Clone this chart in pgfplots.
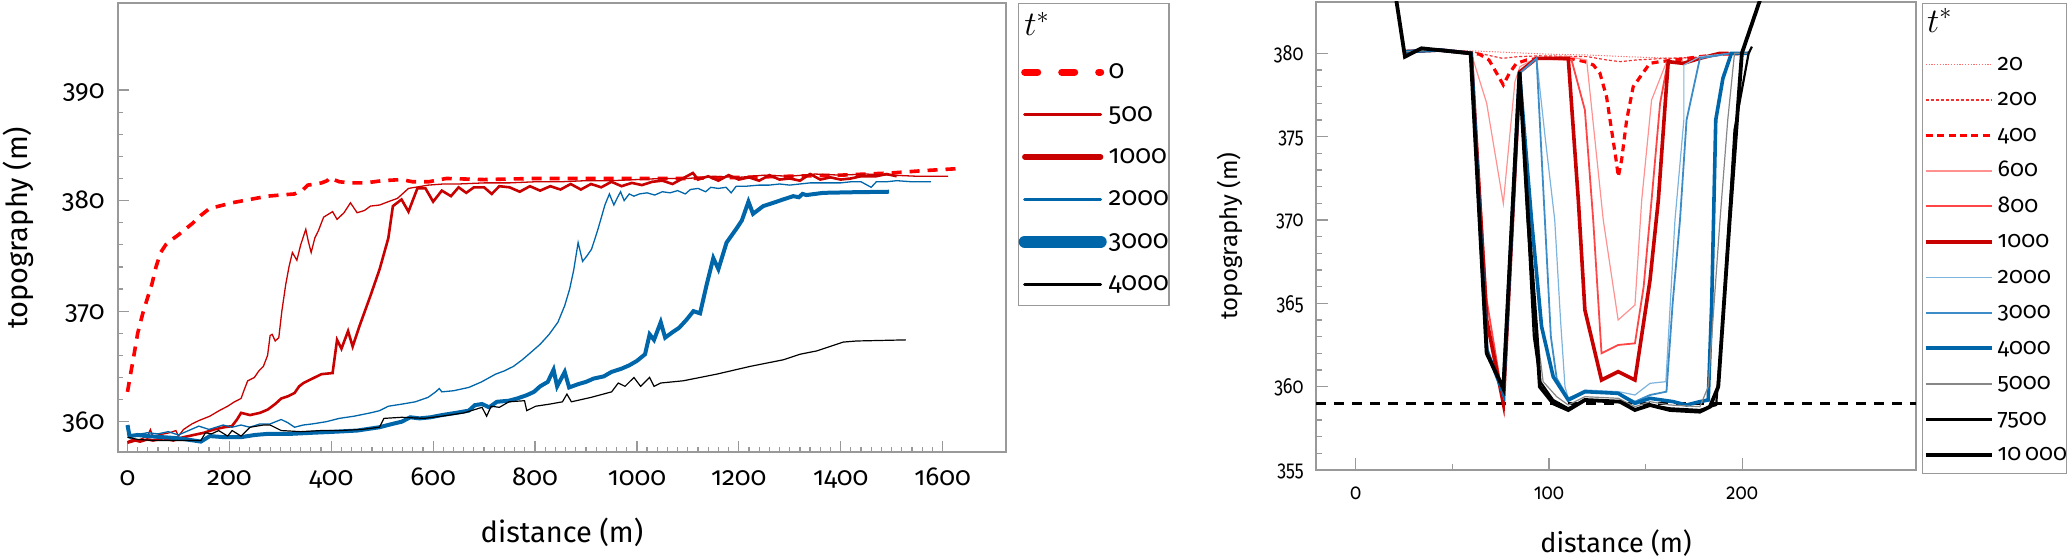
\documentclass[border=0pt]{standalone}
\usepackage{fontspec}
\setmainfont{Fira Sans}[Numbers=OldStyle]
\usepackage{graphicx}
\usepackage{pgfplots}
\pgfplotsset{compat=1.18}
\definecolor{dred}{RGB}{200,0,0}
\definecolor{bblue}{RGB}{0,102,170}
\definecolor{c20}{RGB}{255,110,110}
\definecolor{c200}{RGB}{240,50,50}
\definecolor{c600}{RGB}{255,145,145}
\definecolor{c800}{RGB}{255,70,70}
\definecolor{c2000}{RGB}{125,180,222}
\definecolor{c3000}{RGB}{60,140,200}
\definecolor{c5000}{RGB}{135,135,135}
\pgfplotsset{
  common/.style={
    scale only axis, anchor=south west,
    axis line style={black!40, line width=0.7pt},
    tick style={black!40, line width=0.6pt},
    tick align=inside, xtick pos=lower, ytick pos=left,
    /pgf/number format/assume math mode=true,
    /pgf/number format/1000 sep={},
    tick label style={inner sep=0pt},
    clip=true,
  }
}
\begin{document}
\begin{tikzpicture}
\path[use as bounding box] (0,0) rectangle (1033.5pt,278.5pt);
% ---------------- left panel ----------------
\begin{axis}[common,
  at={(59pt,52.5pt)}, width=444pt, height=224.5pt,
  xmin=-18.65, xmax=1724.6, ymin=357.26, ymax=397.87,
  xtick={0,200,...,1600}, minor x tick num=9,
  ytick={360,370,380,390}, minor y tick num=4,
  major tick length=5.3pt, minor tick length=2.5pt,
  tick label style={font=\fontsize{13}{15}\selectfont},
  xticklabel style={anchor=base, yshift=-16.5pt},
  yticklabel style={anchor=base east, xshift=-6.5pt, yshift=-4pt},
  xlabel={distance (m)}, ylabel={topography (m)},
  every axis x label/.style={at={(axis description cs:0.5,-0.178)}, anchor=center, font=\fontsize{14.5}{16}\selectfont},
  every axis y label/.style={at={(axis description cs:-0.1126,0.5)}, rotate=90, anchor=center, font=\fontsize{14.5}{16}\selectfont},
  legend cell align=left,
  legend image code/.code={\path[draw=none] (0pt,0pt) (44.5pt,0pt); \draw[line cap=round,#1] (2.5pt,0pt) -- (40.5pt,0pt);},
  legend style={at={(axis description cs:1.01351,1)}, anchor=north west, draw=black!40, line width=0.7pt,
    inner xsep=0pt, inner ysep=0pt, row sep=0pt, font=\fontsize{13}{15}\selectfont,
    nodes={inner sep=0pt, text height=13.9pt, text depth=7.3pt},
    /tikz/every odd column/.append style={column sep=0pt}},
]
\addlegendimage{legend image code/.code={\path[draw=none, fill=none] (0pt,-13pt) rectangle (44.5pt,10pt); \node[draw=none, anchor=west, inner sep=0pt, text height=11pt, text depth=0pt] at (2pt,0pt) {\fontsize{18}{18}\selectfont$t^*$};}}
\addlegendentry{}
\addlegendimage{red, line width=3.5pt, dash pattern=on 6.5pt off 12pt}
\addlegendentry{0}
\addlegendimage{dred, line width=1.5pt}
\addlegendentry{500}
\addlegendimage{dred, line width=2.6pt}
\addlegendentry{1000}
\addlegendimage{bblue, line width=1.5pt}
\addlegendentry{2000}
\addlegendimage{bblue, line width=6pt}
\addlegendentry{3000}
\addlegendimage{black, line width=1.5pt}
\addlegendentry{4000}
% t* = 0
\addplot[red, line width=1.8pt, dash pattern=on 5pt off 4pt, forget plot] coordinates {
(0,362.7) (6,364.3) (12.6,366.0) (20,368.0) (30,369.8) (40,371.3) (47.7,372.4) (56,374.0) (65,375.3) (75,376.0) (88,376.5) (100,376.9) (113,377.4) (126.6,377.9) (145,378.7) (161.6,379.3) (180,379.5) (205,379.8) (240,380.1) (275,380.4) (300,380.5) (328,380.6) (345,381.0) (354,381.4) (370,381.5) (381,381.6) (392,381.8) (398,382.1) (405,381.9) (416,381.7) (440,381.6) (468,381.6) (500,381.8) (538,381.9) (560,381.7) (591,381.7) (626,382.0) (700,381.9) (800,382.0) (900,382.0) (1000,382.0) (1100,382.0) (1200,382.1) (1300,382.2) (1400,382.3) (1500,382.5) (1560,382.7) (1634,382.9)};
% t* = 500
\addplot[dred, line width=0.65pt, forget plot] coordinates {
(0,358.2) (10,358.4) (20,358.3) (30,358.5) (38.9,358.7) (45,359.3) (50,358.6) (60,358.8) (82.7,359.0) (95,359.2) (100,358.7) (110,359.3) (126.5,359.8) (140,360.1) (161.6,360.5) (180,361.0) (196.6,361.4) (210,361.8) (222.9,362.1) (230,363.0) (236,363.7) (249,364.0) (258,364.6) (266.7,365.0) (275,366.0) (280,367.8) (284,367.9) (290,367.3) (297,367.6) (303,370.0) (310.6,372.4) (317,374.0) (323.7,375.3) (332.5,374.6) (340,376.0) (350,377.4) (355,376.3) (360.6,375.3) (367.6,376.6) (375,377.3) (385,378.5) (402.6,379.0) (411.4,378.3) (425,378.9) (437.7,379.8) (450.8,378.9) (465,379.1) (477,379.5) (495,379.6) (512,379.9) (530,380.2) (551.6,381.1) (591,381.4) (620,381.5) (650,381.5) (700,381.6) (750,381.6) (800,381.7) (850,381.7) (900,381.8) (950,381.8) (1000,381.9) (1050,382.0) (1100,382.0) (1150,382.2) (1200,382.1) (1250,382.3) (1300,382.2) (1350,382.4) (1400,382.3) (1450,382.4) (1500,382.3) (1550,382.2) (1611,382.2)};
% t* = 1000
\addplot[dred, line width=1.3pt, forget plot] coordinates {
(0,358.1) (15,358.3) (25,358.2) (38.9,358.4) (50,358.3) (70,358.5) (90,358.3) (110,358.6) (130,358.8) (150,359.0) (170,359.3) (190,359.5) (205,359.6) (215,360.2) (223,360.8) (240.5,360.6) (260,360.8) (275.5,361.1) (290,361.6) (301.8,362.1) (315,362.3) (328,362.6) (337,363.2) (345.6,363.5) (363,363.9) (380.7,364.3) (402.6,364.4) (411.4,367.4) (420,366.6) (433,368.2) (442,366.8) (455,368.6) (477,371.4) (495,373.8) (512,376.6) (521,379.5) (538,380.1) (551.6,379.0) (569,381.1) (585,381.1) (600,379.9) (617,380.9) (635,380.4) (650,381.2) (665,380.7) (680,381.2) (700,381.2) (715,380.6) (730,381.3) (750,381.2) (770,380.8) (790,381.3) (810,380.9) (830,381.3) (850,381.0) (870,381.5) (890,381.0) (910,381.5) (930,381.2) (950,381.7) (970,381.3) (990,381.6) (1010,381.4) (1030,381.7) (1050,381.8) (1070,381.5) (1090,382.0) (1110,382.5) (1120,381.9) (1140,382.2) (1160,381.8) (1180,382.3) (1200,381.9) (1220,382.1) (1240,381.8) (1260,382.3) (1280,381.9) (1300,382.0) (1320,381.8) (1340,382.4) (1360,381.9) (1380,382.1) (1400,381.9) (1420,382.0) (1440,382.2) (1470,382.2) (1490,382.4) (1510,382.2)};
% t* = 2000
\addplot[bblue, line width=0.65pt, forget plot] coordinates {
(0,358.9) (5,358.5) (15,358.8) (38.9,359.0) (60,358.9) (80,359.1) (100,358.8) (120,359.2) (140,359.6) (160,359.3) (187.8,359.7) (205,359.5) (222.9,359.7) (240,359.5) (260,359.8) (280,359.8) (301.8,360.2) (315,359.9) (328,359.5) (345,359.7) (363,359.8) (390,360.0) (415.8,360.3) (445,360.5) (477,360.8) (495,361.0) (512,361.4) (540,361.6) (565,361.8) (590,362.2) (605,362.7) (612,363.0) (617,362.7) (640,362.8) (670,363.1) (695,363.6) (722.5,364.3) (740,364.6) (757.5,365.0) (775,365.6) (792.6,366.3) (810,367.0) (827.7,367.9) (845,369.0) (858.3,370.5) (868,372.0) (875.9,373.7) (884.6,376.2) (893.4,374.5) (902,375.0) (910.9,375.6) (918,376.6) (924.1,377.5) (931,378.6) (937.2,379.6) (946,380.6) (954.8,379.6) (961,380.2) (967.9,380.8) (975,380.0) (985,380.6) (994.2,380.4) (1005,380.6) (1020,380.7) (1035,380.5) (1050,380.8) (1065,380.7) (1080,380.9) (1095,380.6) (1105,381.0) (1120,381.1) (1135,380.8) (1145,381.2) (1160,381.1) (1175,381.2) (1185,380.7) (1195,381.3) (1215,381.3) (1240,381.4) (1260,381.4) (1280,381.5) (1300,381.4) (1320,381.5) (1340,381.6) (1360,381.6) (1380,381.6) (1400,381.6) (1420,381.7) (1440,381.7) (1460,381.2) (1470,381.7) (1490,381.7) (1510,381.8) (1540,381.7) (1577,381.7)};
% t* = 3000
\addplot[bblue, line width=2pt, forget plot] coordinates {
(0,359.7) (4,358.7) (20,358.8) (38.9,358.7) (70,358.6) (100,358.5) (130,358.3) (144,358.2) (161.6,358.7) (190,358.6) (222.9,358.6) (250,358.8) (275.5,358.9) (320,358.9) (363,359.0) (410,359.1) (450.8,359.2) (494.7,359.5) (520,359.8) (538.4,360.0) (555,360.4) (573.5,360.3) (595,360.4) (617.3,360.6) (645,360.8) (669.9,361.0) (682,361.5) (696,361.6) (710,361.3) (725,361.8) (748.8,361.9) (765,362.1) (783.8,362.4) (798,362.7) (810,363.2) (825,363.6) (836.4,364.7) (843.4,363.2) (858.3,364.5) (867,363.1) (885,363.4) (900,363.6) (915,363.9) (935,364.1) (950,364.5) (970,364.8) (985,365.1) (1000,365.5) (1016,366.1) (1025,367.9) (1033.6,367.4) (1046.8,369.0) (1055.5,367.6) (1070,368.1) (1083,368.5) (1097,369.2) (1111,370.0) (1124,369.8) (1137,372.4) (1150,374.8) (1160,373.8) (1176,376.2) (1196,377.5) (1206,378.2) (1219,379.9) (1228,378.8) (1248,379.5) (1268,379.8) (1287,380.1) (1307,380.4) (1318,380.3) (1325,380.6) (1333,380.5) (1366,380.7) (1418,380.75) (1495,380.8)};
% t* = 4000
\addplot[black, line width=0.6pt, forget plot] coordinates {
(0,358.6) (20,358.4) (50,358.3) (80,358.3) (110,358.3) (144,358.3) (153,359.0) (165,358.9) (179,359.2) (196.6,358.7) (205.4,359.2) (222.9,358.7) (240.5,359.5) (266.7,359.7) (280,359.7) (301.8,359.2) (340,359.1) (380,359.2) (415.8,359.2) (460,359.3) (494.7,359.5) (503.4,360.3) (538.4,360.4) (582.3,360.3) (617.3,360.5) (661,360.8) (696,361.3) (705,360.5) (714,361.4) (730,361.3) (748.8,361.8) (779.4,361.9) (783.8,361.0) (801.3,361.4) (830,361.6) (853.9,361.8) (862.6,362.5) (871.4,361.8) (910,362.2) (950.4,362.7) (963.5,363.5) (976.7,363.2) (994.2,364.0) (1007.3,363.2) (1024.9,364.0) (1033.6,363.2) (1046.8,363.5) (1091,363.7) (1156.5,364.3) (1222,365.0) (1287.4,365.6) (1320,366.1) (1352.8,366.4) (1405,367.2) (1431,367.3) (1528,367.4)};
\end{axis}
% ---------------- right panel ----------------
\begin{axis}[common,
  at={(658pt,43.5pt)}, width=300pt, height=234pt,
  xmin=-20.5, xmax=289.9, ymin=355, ymax=383.08,
  xtick={0,100,200}, minor x tick num=1,
  ytick={355,360,...,380}, minor y tick num=4,
  major tick length=6pt, minor tick length=3pt,
  tick label style={font=\fontsize{11}{13}\selectfont},
  xticklabel={\scalebox{0.84}[1]{\pgfmathprintnumber{\tick}}},
  yticklabel={\scalebox{0.82}[1]{\pgfmathprintnumber{\tick}}},
  xticklabel style={anchor=base, yshift=-15pt},
  yticklabel style={anchor=base east, xshift=-6pt, yshift=-3.4pt},
  xlabel={distance (m)}, ylabel={topography (m)},
  every axis x label/.style={at={(axis description cs:0.5,-0.1553)}, anchor=center, font=\fontsize{13.5}{15}\selectfont},
  every axis y label/.style={at={(axis description cs:-0.143,0.5)}, rotate=90, anchor=center, font=\fontsize{12}{14}\selectfont},
  legend cell align=left,
  legend image code/.code={\path[draw=none] (0pt,0pt) (37.65pt,0pt); \draw[#1] (1.65pt,0pt) -- (34.65pt,0pt);},
  legend style={at={(axis description cs:1.0095,0.9979)}, anchor=north west, draw=black!40, line width=0.7pt,
    inner xsep=0pt, inner ysep=0.5pt, row sep=0pt, font=\fontsize{11.5}{13}\selectfont,
    nodes={inner sep=0pt, text height=11.8pt, text depth=5.95pt},
    /tikz/every odd column/.append style={column sep=0pt}},
]
\addlegendimage{legend image code/.code={\path[draw=none, fill=none] (0pt,-12.1pt) rectangle (37.65pt,8pt); \node[draw=none, anchor=west, inner sep=0pt, text height=10pt, text depth=0pt] at (2pt,0pt) {\fontsize{17}{17}\selectfont$t^*$};}}
\addlegendentry{}
\addlegendimage{c20, line width=0.5pt, dash pattern=on 0.6pt off 0.8pt}
\addlegendentry{20}
\addlegendimage{c200, line width=1pt, dash pattern=on 1.5pt off 1pt}
\addlegendentry{200}
\addlegendimage{red, line width=1.75pt, dash pattern=on 3.5pt off 2.2pt}
\addlegendentry{400}
\addlegendimage{c600, line width=0.75pt}
\addlegendentry{600}
\addlegendimage{c800, line width=1pt}
\addlegendentry{800}
\addlegendimage{dred, line width=2.2pt}
\addlegendentry{1000}
\addlegendimage{c2000, line width=0.75pt}
\addlegendentry{2000}
\addlegendimage{c3000, line width=1pt}
\addlegendentry{3000}
\addlegendimage{bblue, line width=2pt}
\addlegendentry{4000}
\addlegendimage{c5000, line width=0.75pt}
\addlegendentry{5000}
\addlegendimage{black, line width=1.25pt}
\addlegendentry{7500}
\addlegendimage{black, line width=2.2pt}
\addlegendentry{10\,000}
% reference level
\addplot[black, line width=1.2pt, dash pattern=on 5pt off 4pt, forget plot] coordinates {(-20.5,359) (289.9,359)};
% 20
\addplot[c20, line width=0.5pt, dash pattern=on 0.6pt off 0.8pt, forget plot] coordinates {
(25.6,380.1) (43.6,380.2) (60,380.15) (80,380.05) (100,379.95) (120,379.9) (140,379.8) (164,379.7) (178,379.75) (188.5,379.95) (203,380.05)};
% 200
\addplot[c200, line width=0.6pt, dash pattern=on 1.5pt off 1pt, forget plot] coordinates {
(25.6,380.1) (43.6,380.2) (60,380.1) (68,379.9) (76,379.7) (84,379.8) (95,379.85) (120,379.8) (130,379.6) (137,379.5) (145,379.6) (160,379.7) (175,379.75) (190,379.95) (203,380.05)};
% 400
\addplot[red, line width=1.6pt, dash pattern=on 3.5pt off 2.5pt, forget plot] coordinates {
(25.6,380.1) (43.6,380.2) (59.8,380.0) (64,379.95) (69,379.6) (73,378.8) (76.4,378.1) (79.5,378.8) (83.2,379.4) (88.5,379.6) (95,379.7) (110.9,379.7) (118.6,379.5) (123,379.3) (126.4,378.8) (129.8,377.4) (132.4,375.4) (134.5,373.8) (135.9,372.6) (137.6,373.6) (140.2,376.0) (143.6,378.0) (147.9,378.7) (152.2,379.4) (157.4,379.5) (165,379.6) (178,379.8) (190,379.95) (203,380.0)};
% 600
\addplot[c600, line width=0.6pt, forget plot] coordinates {
(25.6,380.1) (43.6,380.2) (59.8,380.0) (67.8,377.0) (76.4,371.0) (82.4,378.3) (85,379.2) (93,379.7) (110,379.8) (119.5,379.6) (128.1,370.0) (135.8,364.0) (144.5,364.9) (148,371.2) (153.1,377.2) (160.9,379.5) (169.5,379.4) (178,379.75) (188.5,380.0) (193,380.0)};
% 800
\addplot[c800, line width=0.9pt, forget plot] coordinates {
(25.6,380.1) (43.6,380.2) (59.8,380.0) (67.8,365.2) (76.4,359.1) (85,378.9) (93.6,379.7) (111.7,379.6) (118.6,376.6) (122.9,370.0) (127.2,362.0) (135.8,362.5) (144.5,362.6) (149,366.0) (153.1,371.2) (157.5,377.0) (161.5,379.5) (169.5,379.4) (178.1,379.7) (188.5,380.0) (193,380.0)};
% 1000
\addplot[dred, line width=1.8pt, forget plot] coordinates {
(25.6,380.1) (43.6,380.2) (59.8,380.0) (67.8,364.0) (76.4,359.0) (85,378.9) (93.6,379.7) (110,379.7) (115.2,371.2) (118.6,364.6) (127.2,360.4) (135.8,360.9) (144.5,360.4) (152.3,366.4) (156.6,371.2) (161.7,379.5) (169.5,379.4) (178.1,379.7) (188.5,380.0) (193,380.0)};
% 2000
\addplot[c2000, line width=0.6pt, forget plot] coordinates {
(25.6,380.1) (43.6,380.2) (59.8,380.0) (67.8,362.5) (76.4,359.4) (84.8,378.8) (93.6,379.7) (98,375) (103,370) (106,364) (108.3,360.0) (110,359.3) (118.6,359.8) (136,359.7) (144.5,359.5) (152.3,360.2) (160.5,360.3) (165.2,370) (169.8,376) (169.8,379.3) (178,379.8) (194,380.0) (203.3,380.0)};
% 3000
\addplot[c3000, line width=0.9pt, forget plot] coordinates {
(25.6,380.1) (43.6,380.2) (59.8,380.0) (67.8,362.3) (76.4,359.5) (84.8,378.8) (93.6,379.7) (97.9,370) (101,363) (104,360.5) (110,359.3) (118.6,359.7) (136,359.6) (144.5,359.1) (152.3,359.5) (160.8,359.7) (164,365) (167.8,370) (171.2,376) (178.1,379.7) (194,380.0) (203.3,380.0)};
% 4000
\addplot[bblue, line width=1.8pt, forget plot] coordinates {
(25.6,380.1) (43.6,380.2) (59.8,380.0) (67.8,362.2) (76.4,359.6) (84.8,378.8) (91,370) (96.2,363.6) (102.2,360.6) (110,359.2) (118.6,359.7) (135.8,359.6) (144.5,359.0) (152.3,359.3) (164.3,359.1) (171.2,358.9) (178.1,359.1) (182.4,359.2) (184.2,365) (186.3,376) (190,378.5) (194.4,380.0) (203.3,380.0)};
% 5000
\addplot[c5000, line width=0.6pt, forget plot] coordinates {
(25.6,380.1) (43.6,380.2) (59.8,380.0) (67.8,362.1) (76.4,359.7) (84.8,378.8) (89.8,370) (93,364) (97,360.3) (104,359.4) (110,358.9) (118.6,359.4) (136,359.3) (144.5,358.8) (152.3,359.1) (162.6,358.9) (178.1,358.8) (182.4,360) (188.5,370) (192.5,376) (196,380) (203.3,380.0)};
% 7500
\addplot[black, line width=1.1pt, forget plot] coordinates {
(25.6,379.8) (34.1,380.3) (59.5,380.0) (67.8,362.0) (76.4,359.8) (84.8,378.8) (89,370) (92.2,363) (95.5,360.3) (102.2,359.2) (110,358.7) (118.6,359.2) (136.7,359.1) (144.5,358.6) (152.3,358.9) (162.6,358.7) (178.1,358.6) (186.5,358.9) (190,364) (196,375.4) (203.3,380.0) (205,380.4)};
% 10000
\addplot[black, line width=1.9pt, forget plot] coordinates {
(20.5,383.6) (25.5,379.8) (34.1,380.3) (59.5,380.0) (67.8,362.0) (76.4,359.9) (84.8,378.9) (89.3,370) (93.6,363.2) (95.3,360.0) (102.2,359.0) (110,358.6) (118.6,359.2) (136.7,359.1) (144.5,358.6) (152.3,358.9) (162.6,358.6) (178.1,358.5) (183.3,358.8) (187.6,360) (193.5,370) (199.8,380.0) (209.2,383.2) (211,384)};
\end{axis}
\end{tikzpicture}
\end{document}
